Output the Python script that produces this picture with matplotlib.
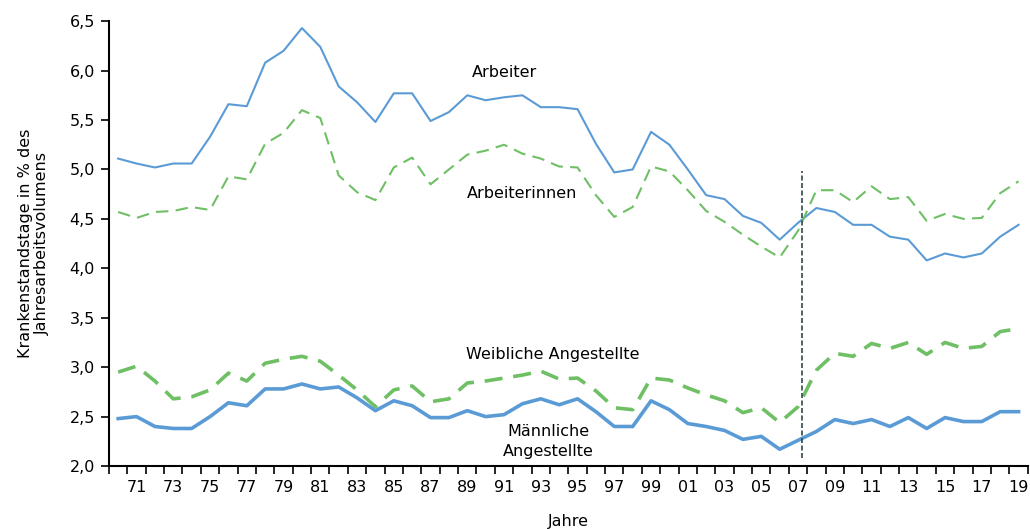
import numpy as np
import matplotlib.pyplot as plt
from matplotlib.ticker import FuncFormatter

plt.rcParams['font.family'] = ['DejaVu Sans']

# Jahre 1970 - 2019
jahre = list(range(1970, 2020))

arbeiter = [5.11, 5.06, 5.02, 5.06, 5.06, 5.33, 5.66, 5.64, 6.08, 6.20,
            6.43, 6.24, 5.84, 5.68, 5.48, 5.77, 5.77, 5.49, 5.58, 5.75,
            5.70, 5.73, 5.75, 5.63, 5.63, 5.61, 5.26, 4.97, 5.00, 5.38,
            5.25, 5.00, 4.74, 4.70, 4.53, 4.46, 4.29, 4.46, 4.61, 4.57,
            4.44, 4.44, 4.32, 4.29, 4.08, 4.15, 4.11, 4.15, 4.32, 4.44]

arbeiterinnen = [4.57, 4.51, 4.57, 4.58, 4.62, 4.59, 4.93, 4.90, 5.26, 5.37,
                 5.60, 5.52, 4.94, 4.77, 4.69, 5.02, 5.12, 4.85, 5.00, 5.15,
                 5.19, 5.25, 5.16, 5.11, 5.03, 5.02, 4.74, 4.52, 4.62, 5.03,
                 4.98, 4.79, 4.58, 4.47, 4.34, 4.22, 4.11, 4.38, 4.79, 4.79,
                 4.67, 4.83, 4.70, 4.72, 4.48, 4.55, 4.50, 4.51, 4.76, 4.88]

weibl_angestellte = [2.95, 3.01, 2.86, 2.68, 2.70, 2.77, 2.94, 2.86, 3.04, 3.08,
                     3.11, 3.06, 2.92, 2.77, 2.60, 2.77, 2.81, 2.65, 2.68, 2.84,
                     2.86, 2.89, 2.92, 2.96, 2.88, 2.89, 2.76, 2.59, 2.57, 2.89,
                     2.87, 2.79, 2.72, 2.66, 2.54, 2.59, 2.44, 2.60, 2.97, 3.14,
                     3.11, 3.24, 3.19, 3.25, 3.13, 3.25, 3.19, 3.21, 3.36, 3.39]

maennl_angestellte = [2.48, 2.50, 2.40, 2.38, 2.38, 2.50, 2.64, 2.61, 2.78, 2.78,
                      2.83, 2.78, 2.80, 2.69, 2.56, 2.66, 2.61, 2.49, 2.49, 2.56,
                      2.50, 2.52, 2.63, 2.68, 2.62, 2.68, 2.55, 2.40, 2.40, 2.66,
                      2.57, 2.43, 2.40, 2.36, 2.27, 2.30, 2.17, 2.26, 2.35, 2.47,
                      2.43, 2.47, 2.40, 2.49, 2.38, 2.49, 2.45, 2.45, 2.55, 2.55]

blau = '#5B9BD5'
gruen = '#6FBF65'

fig = plt.figure(figsize=(10.3, 5.29), dpi=100)
ax = fig.add_axes([0.1058, 0.119, 0.892, 0.841])

ax.plot(jahre, arbeiter, color=blau, lw=1.5)
ax.plot(jahre, arbeiterinnen, color=gruen, lw=1.5, dashes=(6, 3.5))
ax.plot(jahre, weibl_angestellte, color=gruen, lw=2.6, dashes=(5, 3))
ax.plot(jahre, maennl_angestellte, color=blau, lw=2.6)

# Bruch in der Zeitreihe
ax.plot([2007.2, 2007.2], [2.08, 4.98], color='#2E4A4A', lw=1.2, dashes=(3, 1.5))

ax.text(1991.0, 5.985, 'Arbeiter', ha='center', va='center', fontsize=11.5)
ax.text(1992.0, 4.76, 'Arbeiterinnen', ha='center', va='center', fontsize=11.5)
ax.text(1993.65, 3.13, 'Weibliche Angestellte', ha='center', va='center', fontsize=11.5)
ax.text(1993.4, 2.25, 'Männliche\nAngestellte', ha='center', va='center',
        fontsize=11.5, linespacing=1.4)

ax.set_xlim(1969.5, 2019.5)
ax.set_ylim(2.0, 6.5)
ax.set_yticks(np.arange(2.0, 6.51, 0.5))
ax.yaxis.set_major_formatter(FuncFormatter(lambda v, p: f'{v:.1f}'.replace('.', ',')))

ax.set_xticks(range(1971, 2020, 2))
ax.set_xticklabels([f'{j % 100:02d}' for j in range(1971, 2020, 2)])
ax.set_xticks(np.arange(1969.5, 2020, 1), minor=True)
ax.tick_params(axis='x', which='major', length=0, pad=10, labelsize=11.5)
ax.tick_params(axis='x', which='minor', length=6, width=1.2, direction='out')
ax.tick_params(axis='y', length=6, width=1.2, labelsize=11.5, pad=4)

for s in ['top', 'right']:
    ax.spines[s].set_visible(False)
for s in ['left', 'bottom']:
    ax.spines[s].set_linewidth(1.5)

ax.set_xlabel('Jahre', fontsize=11.5, labelpad=14)
ax.set_ylabel('Krankenstandstage in % des\nJahresarbeitsvolumens', fontsize=11.5, labelpad=14)

fig.savefig('out.png', dpi=100)
